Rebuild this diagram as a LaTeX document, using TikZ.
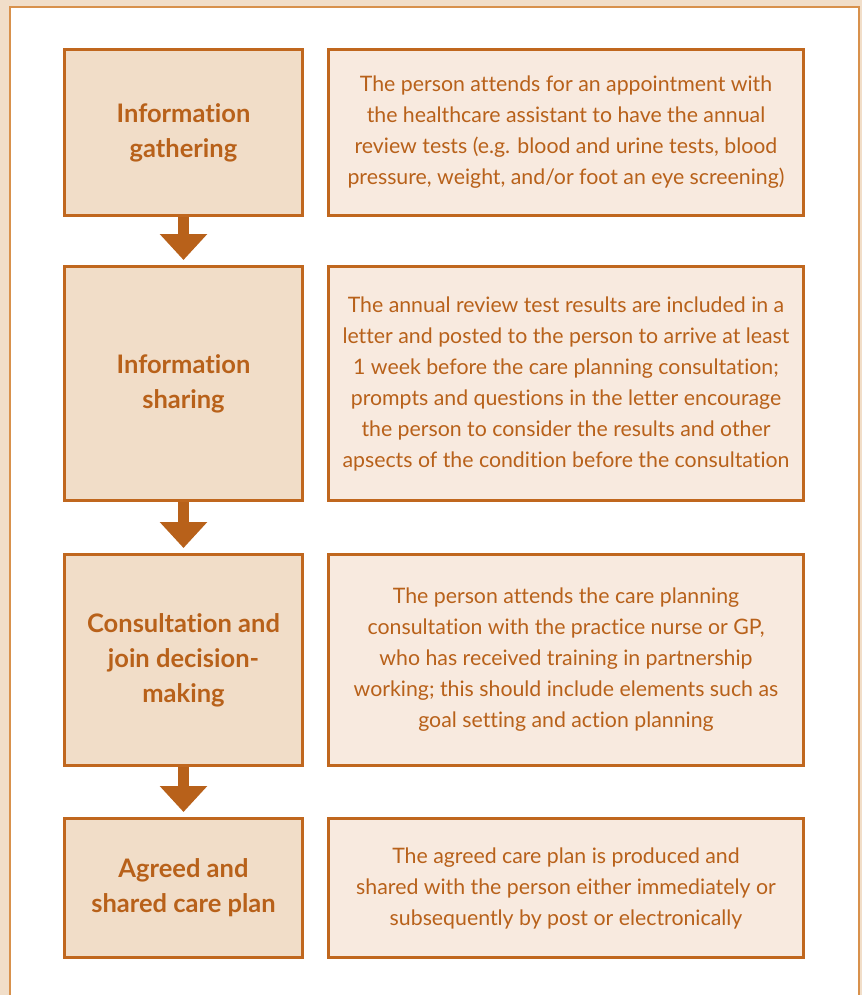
\documentclass[tikz,border=0pt]{standalone}
\usepackage{fontspec}
\setmainfont{Lato}[Ligatures=NoCommon]
\usepackage{xcolor}
\usepackage{tikz}
\usetikzlibrary{positioning}
\usetikzlibrary{arrows.meta}

\definecolor{pagetan}{HTML}{F1DEC9}
\definecolor{frameorange}{HTML}{D8914C}
\definecolor{boxedge}{HTML}{C0671E}
\definecolor{stepfill}{HTML}{F1DDC8}
\definecolor{notefill}{HTML}{F8EADF}
\definecolor{inktext}{HTML}{B8611A}

\tikzset{
    stagebox/.style={draw=boxedge, line width=3pt, fill=stepfill, minimum width=238pt,
        align=center, text=inktext, font=\fontsize{25.5}{35}\selectfont\bfseries, inner sep=0pt},
    notebox/.style={draw=boxedge, line width=3pt, fill=notefill, minimum width=475pt,
        align=center, text=inktext, font=\fontsize{21.3}{31}\selectfont, inner sep=0pt},
    downarrow/.style={draw=inktext, line width=11pt, shorten >=5pt,
        -{Triangle[width=46pt, length=26pt, fill=inktext]}}
}

\begin{document}
\begin{tikzpicture}[x=1pt, y=-1pt]
        \useasboundingbox (0,0) rectangle (862,995);
        \fill[pagetan] (0,0) rectangle (862,995);
        \draw[frameorange, line width=1.5pt, fill=white] (10,1010) -- (10,7) -- (859,7) -- (859,1010);

        % stage boxes
        \node[stagebox, minimum height=166pt] (gather) at (183.5,132.5) {Information\\gathering};
        \node[stagebox, minimum height=234pt] (share) at (183.5,383.5) {Information\\sharing};
        \node[stagebox, minimum height=211pt] (consult) at (183.5,660) {Consultation and\\join decision-\\making};
        \node[stagebox, minimum height=139pt] (plan) at (183.5,888) {Agreed and\\shared care plan};

        % descriptions
        \node[notebox, minimum height=166pt, right=23pt of gather] (gathernote) {The person attends for an appointment with\\the healthcare assistant to have the annual\\review tests (e.g. blood and urine tests, blood\\pressure, weight, and/or foot an eye screening)};
        \node[notebox, minimum height=234pt, right=23pt of share] (sharenote) {The annual review test results are included in a\\letter and posted to the person to arrive at least\\1 week before the care planning consultation;\\prompts and questions in the letter encourage\\the person to consider the results and other\\apsects of the condition before the consultation};
        \node[notebox, minimum height=211pt, right=23pt of consult] (consultnote) {The person attends the care planning\\consultation with the practice nurse or GP,\\who has received training in partnership\\working; this should include elements such as\\goal setting and action planning};
        \node[notebox, minimum height=139pt, right=23pt of plan] (plannote) {The agreed care plan is produced and\\shared with the person either immediately or\\subsequently by post or electronically};

        % arrows
        \draw[downarrow] (gather.south) -- (share.north);
        \draw[downarrow] (share.south) -- (consult.north);
        \draw[downarrow] (consult.south) -- (plan.north);
    \end{tikzpicture}
\end{document}
